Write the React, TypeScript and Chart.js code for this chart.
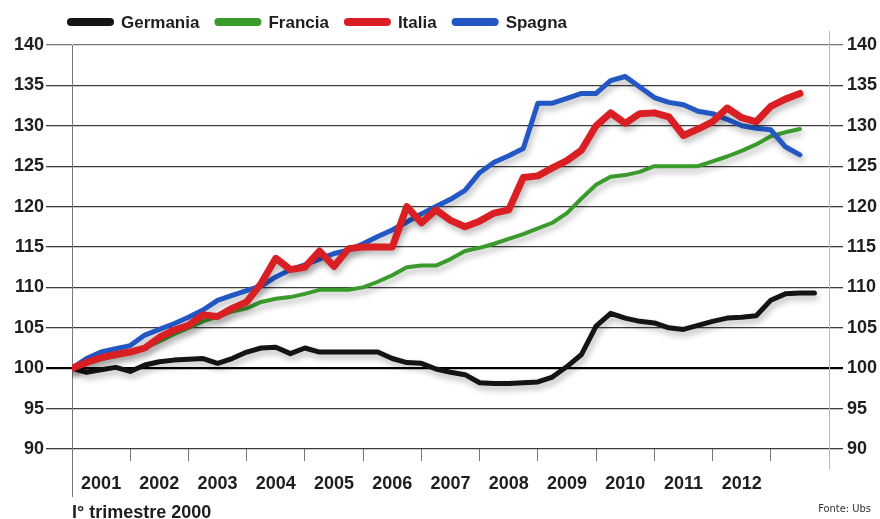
import React, { useEffect, useRef } from "react";
import { Chart, registerables } from "chart.js";

Chart.register(...registerables);

const seriesNames = ["Germania", "Francia", "Italia", "Spagna"];
const seriesColors = ["#141414", "#3a9a2c", "#d91e24", "#2257c4"];
const seriesWidths = [5, 4, 7, 5];
const seriesOrder = [3, 2, 0, 1];

const germania = [
  100, 99.5, 99.8, 100.1, 99.6, 100.4, 100.8, 101, 101.1, 101.2, 100.6, 101.2,
  102, 102.5, 102.6, 101.8, 102.5, 102, 102, 102, 102, 102, 101.2, 100.7,
  100.6, 99.9, 99.5, 99.2, 98.2, 98.1, 98.1, 98.2, 98.3, 98.9, 100.2, 101.7,
  105.2, 106.8, 106.2, 105.8, 105.6, 105, 104.8, 105.3, 105.8, 106.2, 106.3, 106.5,
  108.4, 109.2, 109.3, 109.3,
];
const francia = [
  100, 100.6, 101.1, 101.5, 101.9, 102.5, 103.3, 104.2, 105, 105.8, 106.4, 107,
  107.4, 108.2, 108.6, 108.8, 109.2, 109.7, 109.7, 109.7, 110, 110.7, 111.5, 112.5,
  112.7, 112.7, 113.5, 114.5, 114.9, 115.4, 116, 116.6, 117.3, 118, 119.2, 121,
  122.7, 123.7, 123.9, 124.3, 125, 125, 125, 125, 125.6, 126.2, 126.9, 127.7,
  128.7, 129.2, 129.6,
];
const italia = [
  100, 100.7, 101.3, 101.7, 102, 102.5, 103.8, 104.7, 105.3, 106.6, 106.4, 107.4,
  108.2, 110.5, 113.6, 112.2, 112.5, 114.5, 112.6, 114.8, 115, 115, 115, 120,
  118, 119.6, 118.3, 117.5, 118.2, 119.2, 119.6, 123.6, 123.8, 124.8, 125.7, 127,
  130, 131.6, 130.3, 131.5, 131.6, 131.1, 128.8, 129.6, 130.5, 132.2, 131, 130.5,
  132.4, 133.3, 134,
];
const spagna = [
  100, 101.2, 102, 102.4, 102.8, 104.1, 104.8, 105.5, 106.3, 107.2, 108.4, 109,
  109.6, 110.2, 111.3, 112.2, 112.8, 113.5, 114.2, 114.6, 115.4, 116.3, 117.1, 118.1,
  119.1, 120, 120.9, 122, 124.2, 125.5, 126.3, 127.2, 132.8, 132.8, 133.4, 134,
  134, 135.6, 136.1, 134.8, 133.5, 132.9, 132.6, 131.8, 131.5, 130.8, 130, 129.7,
  129.5, 127.4, 126.4,
];
const seriesValues = [germania, francia, italia, spagna];

const yearLabels = ["2001", "2002", "2003", "2004", "2005", "2006", "2007", "2008", "2009", "2010", "2011", "2012"];
const quartersPerYear = 4;
const totalQuarters = 52;
const yMin = 90;
const yMax = 140;
const yStep = 5;
const startLabel = "I° trimestre 2000";
const sourceLabel = "Fonte: Ubs";

const FONT = "'Liberation Sans', Arial, sans-serif";
const NARROW = "'Liberation Sans Narrow', 'DejaVu Sans Condensed', Arial, sans-serif";

const decorPlugin = {
  id: "decor",
  beforeDatasetDraw(chart: any) {
    const ctx = chart.ctx;
    ctx.save();
    ctx.shadowColor = "rgba(0,0,0,0.28)";
    ctx.shadowBlur = 6;
    ctx.shadowOffsetX = 2;
    ctx.shadowOffsetY = 4;
  },
  afterDatasetDraw(chart: any) {
    chart.ctx.restore();
  },
  afterDraw(chart: any) {
    const ctx = chart.ctx;
    const ca = chart.chartArea;
    const xs = chart.scales.x;
    ctx.save();
    // left axis extension
    const x0 = xs.getPixelForValue(0);
    ctx.strokeStyle = "#777";
    ctx.lineWidth = 1;
    ctx.beginPath();
    ctx.moveTo(x0 + 0.5, ca.bottom);
    ctx.lineTo(x0 + 0.5, ca.bottom + 48);
    ctx.stroke();
    // right axis line
    const x1 = xs.getPixelForValue(totalQuarters);
    ctx.strokeStyle = "#bbb";
    ctx.beginPath();
    ctx.moveTo(x1 + 0.5, ca.top - 14);
    ctx.lineTo(x1 + 0.5, ca.bottom + 20);
    ctx.stroke();

    // legend
    ctx.textBaseline = "middle";
    ctx.font = `bold 17px ${FONT}`;
    let lx = 68;
    const ly = 22;
    chart.data.datasets.forEach((ds: any) => {
      ctx.strokeStyle = ds.borderColor;
      ctx.lineWidth = 8;
      ctx.lineCap = "round";
      ctx.beginPath();
      ctx.moveTo(lx + 3, ly);
      ctx.lineTo(lx + 42, ly);
      ctx.stroke();
      lx += 45 + 8;
      ctx.fillStyle = "#1e1e1e";
      ctx.fillText(ds.label, lx, ly + 1);
      lx += ctx.measureText(ds.label).width + 16;
    });

    // bottom texts
    ctx.textBaseline = "alphabetic";
    ctx.fillStyle = "#1e1e1e";
    ctx.font = `bold 18px ${FONT}`;
    ctx.fillText(startLabel, x0, 518);
    ctx.font = `11px ${NARROW}`;
    ctx.fillStyle = "#333";
    ctx.textAlign = "right";
    ctx.fillText(sourceLabel, 871, 512);
    ctx.restore();
  },
};

export default function App() {
  const ref = useRef<HTMLCanvasElement | null>(null);

  useEffect(() => {
    if (!ref.current) return;
    const datasets = seriesNames.map((name, k) => ({
      label: name,
      data: seriesValues[k].map((v, i) => ({ x: i, y: v })),
      borderColor: seriesColors[k],
      backgroundColor: seriesColors[k],
      borderWidth: seriesWidths[k],
      order: seriesOrder[k],
      pointRadius: 0,
      tension: 0,
      borderJoinStyle: "round" as const,
      borderCapStyle: "round" as const,
      fill: false,
    }));

    const gridColor = (ctx: any) => {
      const v = ctx.tick?.value;
      if (v === 100) return "#000";
      if (v === yMax) return "#777";
      return "#3d3d3d";
    };
    const gridWidth = (ctx: any) => (ctx.tick?.value === 100 ? 2.2 : 1.3);
    const yTickFont = { family: FONT, size: 18, weight: "bold" as const };

    const chart = new Chart(ref.current, {
      type: "line",
      data: { datasets },
      plugins: [decorPlugin],
      options: {
        animation: false,
        responsive: false,
        devicePixelRatio: 1,
        layout: { padding: { top: 45, bottom: 0, left: 0, right: 0 } },
        plugins: { legend: { display: false }, tooltip: { enabled: false } },
        scales: {
          x: {
            type: "linear",
            min: 0,
            max: totalQuarters,
            afterFit: (s: any) => {
              s.height = 70;
            },
            border: { display: false },
            grid: {
              drawOnChartArea: false,
              drawTicks: true,
              tickLength: 12,
              color: (ctx: any) =>
                ctx.tick && ctx.tick.value % quartersPerYear === 0 ? "#777" : "rgba(0,0,0,0)",
              lineWidth: 1,
            },
            ticks: {
              stepSize: 2,
              autoSkip: false,
              maxRotation: 0,
              padding: 12,
              color: "#1e1e1e",
              font: { family: FONT, size: 18, weight: "bold" },
              callback: (value: any) => {
                const v = Number(value);
                if (v % quartersPerYear !== 2) return "";
                const idx = (v - 2) / quartersPerYear;
                return yearLabels[idx] ?? "";
              },
            },
          },
          y: {
            position: "left",
            min: yMin,
            max: yMax,
            afterFit: (s: any) => {
              s.width = 72;
            },
            border: { display: true, color: "#777", width: 1 },
            grid: {
              color: gridColor,
              lineWidth: gridWidth,
              tickLength: 26,
              drawTicks: true,
            },
            ticks: {
              stepSize: yStep,
              padding: 2,
              color: "#1e1e1e",
              font: yTickFont,
            },
          },
          y2: {
            position: "right",
            min: yMin,
            max: yMax,
            afterFit: (s: any) => {
              s.width = 51;
            },
            border: { display: false },
            grid: {
              drawOnChartArea: false,
              color: gridColor,
              lineWidth: gridWidth,
              tickLength: 14,
            },
            ticks: {
              stepSize: yStep,
              padding: 4,
              color: "#1e1e1e",
              font: yTickFont,
            },
          },
        },
      },
    });
    return () => chart.destroy();
  }, []);

  return (
    <div style={{ position: "absolute", left: 0, top: 0, width: 880, height: 519, background: "#fff" }}>
      <canvas ref={ref} width={880} height={519} style={{ display: "block" }} />
    </div>
  );
}
